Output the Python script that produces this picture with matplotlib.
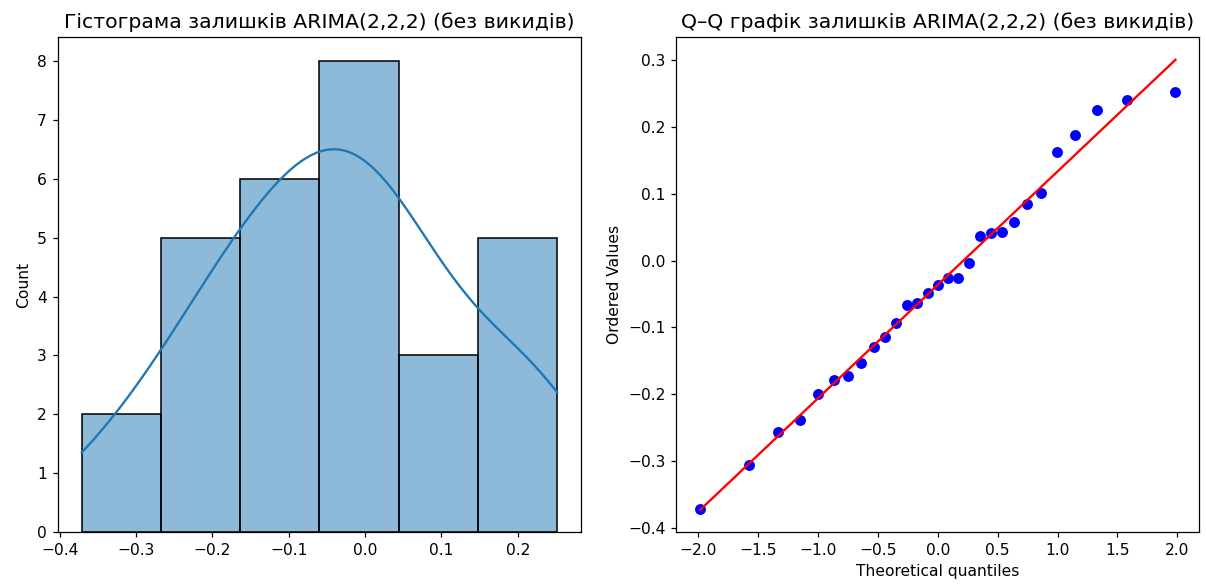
import numpy as np
import matplotlib
matplotlib.use("Agg")
import matplotlib.pyplot as plt
import seaborn as sns
from statistics import NormalDist

# residuals of ARIMA(2,2,2) without outliers (sorted)
residuals = np.array([
    -0.371, -0.306, -0.257, -0.239, -0.199, -0.178, -0.173, -0.153,
    -0.129, -0.114, -0.0935, -0.066, -0.063, -0.048, -0.036, -0.026,
    -0.026, -0.003, 0.036, 0.041, 0.042, 0.058, 0.084, 0.1005,
    0.163, 0.187, 0.2255, 0.240, 0.2515,
])

hist_title = "Гістограма залишків ARIMA(2,2,2) (без викидів)"
qq_title = "Q–Q графік залишків ARIMA(2,2,2) (без викидів)"


def theoretical_quantiles(n):
    # Filliben's estimate of order statistic medians (as in scipy.stats.probplot)
    m = np.empty(n)
    m[-1] = 0.5 ** (1.0 / n)
    m[0] = 1 - m[-1]
    i = np.arange(2, n)
    m[1:-1] = (i - 0.3175) / (n + 0.365)
    nd = NormalDist()
    return np.array([nd.inv_cdf(p) for p in m])


dpi = 112
fig, (ax1, ax2) = plt.subplots(1, 2, figsize=(1206 / dpi, 587 / dpi), dpi=dpi)

sns.histplot(residuals, kde=True, ax=ax1)
ax1.set_title(hist_title, fontsize=13.1)

osm = theoretical_quantiles(len(residuals))
osr = np.sort(residuals)
slope, intercept = np.polyfit(osm, osr, 1)
ax2.plot(osm, osr, 'bo')
ax2.plot(osm, slope * osm + intercept, 'r-')
ax2.set_title(qq_title, fontsize=13.1)
ax2.set_xlabel("Theoretical quantiles")
ax2.set_ylabel("Ordered Values")

fig.subplots_adjust(left=0.0481, right=0.9944, bottom=0.0932, top=0.9365, wspace=0.183)
fig.savefig("out.png", dpi=dpi)
